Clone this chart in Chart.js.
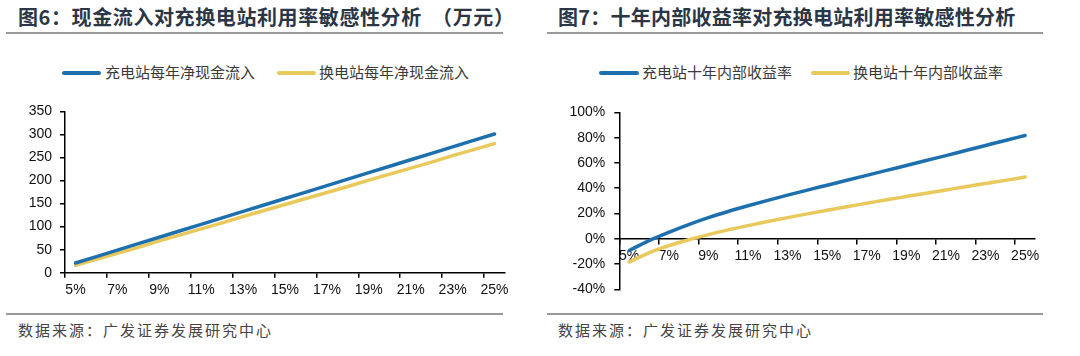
<!DOCTYPE html>
<html>
<head>
<meta charset="utf-8">
<script src="https://cdn.jsdelivr.net/npm/chart.js@4.4.1/dist/chart.umd.min.js"></script>
<style>
  html,body{margin:0;padding:0;background:#fff;}
  body{width:1080px;height:356px;position:relative;overflow:hidden;font-family:"Noto Sans CJK SC","Liberation Sans",sans-serif;}
  .title{position:absolute;top:4px;font-size:20px;font-weight:700;color:#2b3646;white-space:pre;line-height:26px;}
  .rule{position:absolute;height:2px;background:#9a9a9a;}
  .legend{position:absolute;top:62px;height:20px;font-size:15px;color:#3a3a3a;white-space:nowrap;line-height:20px;}
  .legend span.sw{position:absolute;top:9px;height:4px;border-radius:2px;}
  .legend span.tx{position:absolute;top:0;}
  .src{position:absolute;top:319px;font-size:15px;color:#444;letter-spacing:2px;white-space:nowrap;line-height:22px;}
  .wrap{position:absolute;top:95px;width:540px;height:215px;}
</style>
</head>
<body>
<div class="title" style="left:18px;letter-spacing:0.6px;">图6：现金流入对充换电站利用率敏感性分析  （万元）</div>
<div class="rule" style="left:6px;width:497px;top:32px;"></div>
<div class="title" style="left:558px;letter-spacing:0.25px;">图7：十年内部收益率对充换电站利用率敏感性分析</div>
<div class="rule" style="left:547px;width:496px;top:32px;"></div>

<div class="legend" style="left:0;width:540px;">
  <span class="sw" style="left:62px;width:39px;background:#1d6fad;"></span>
  <span class="tx" style="left:105px;">充电站每年净现金流入</span>
  <span class="sw" style="left:277px;width:39px;background:#e9c95b;"></span>
  <span class="tx" style="left:319px;">换电站每年净现金流入</span>
</div>
<div class="legend" style="left:540px;width:540px;">
  <span class="sw" style="left:59px;width:40px;background:#1d6fad;"></span>
  <span class="tx" style="left:102px;">充电站十年内部收益率</span>
  <span class="sw" style="left:271px;width:39px;background:#e9c95b;"></span>
  <span class="tx" style="left:313px;">换电站十年内部收益率</span>
</div>

<div class="wrap" style="left:0;"><canvas id="c1" width="540" height="215"></canvas></div>
<div class="wrap" style="left:540px;"><canvas id="c2" width="540" height="215"></canvas></div>

<div class="rule" style="left:6px;width:497px;top:313px;"></div>
<div class="rule" style="left:547px;width:496px;top:313px;"></div>
<div class="src" style="left:18px;">数据来源：广发证券发展研究中心</div>
<div class="src" style="left:558px;">数据来源：广发证券发展研究中心</div>

<script>
// ---- data ----
const utilization = ['5%','6%','7%','8%','9%','10%','11%','12%','13%','14%','15%','16%','17%','18%','19%','20%','21%','22%','23%','24%','25%'];
const chargeCashFlow = [21, 35, 49, 63, 77, 91, 105, 119, 133, 147, 161, 175, 189, 203, 217, 231, 245, 259, 273, 287, 301];
const swapCashFlow   = [16, 29, 42, 55, 69, 82, 95, 108, 122, 135, 148, 161, 174, 187, 201, 214, 227, 240, 254, 267, 280];
const chargeIRR = [-9.3, -1.5, 5.1, 11.2, 16.7, 21.6, 26.1, 30.4, 34.5, 38.5, 42.4, 46.3, 50.2, 54.1, 58.0, 61.9, 65.8, 69.8, 73.8, 77.8, 81.7];
const swapIRR   = [-18.4, -11.2, -5.5, -0.8, 3.3, 7.0, 10.4, 13.6, 16.7, 19.7, 22.6, 25.4, 28.1, 30.8, 33.4, 36.0, 38.6, 41.2, 43.7, 46.2, 48.8];
const cashTicks = [0, 50, 100, 150, 200, 250, 300, 350];
const irrTicks = [-40, -20, 0, 20, 40, 60, 80, 100];

const BLUE = '#1d6fad', YELLOW = '#e9c95b';
const tickFont = {family: '"Liberation Sans Narrow","Liberation Sans",Arial,sans-serif', size: 14};

function xScale(extra) {
  return Object.assign({
    type: 'category',
    offset: true,
    grid: {
      offset: true, drawOnChartArea: false, drawTicks: true, tickLength: 5, lineWidth: 1.5,
      tickColor: ctx => (ctx.index !== undefined && ctx.index % 2 === 0) ? '#000' : 'rgba(0,0,0,0)'
    },
    border: {display: true, color: '#000', width: 1.5},
    ticks: {
      autoSkip: false, maxRotation: 0, minRotation: 0, padding: 4, color: '#111', font: tickFont,
      callback: function(v, i) { return i % 2 === 0 ? this.getLabelForValue(v) : ''; }
    }
  }, extra || {});
}

function lineDS(label, data, color, tension) {
  return {label, data, borderColor: color, backgroundColor: color, borderWidth: 3.5,
          pointRadius: 0, borderCapStyle: 'round', tension: tension, cubicInterpolationMode: tension ? 'monotone' : 'default'};
}

new Chart(document.getElementById('c1'), {
  type: 'line',
  data: {labels: utilization, datasets: [
    lineDS('充电站每年净现金流入', chargeCashFlow, BLUE, 0),
    lineDS('换电站每年净现金流入', swapCashFlow, YELLOW, 0)
  ]},
  options: {
    responsive: false, animation: false, devicePixelRatio: 1,
    layout: {padding: {left: 0, right: 35, top: 13.5, bottom: 0}},
    plugins: {legend: {display: false}, tooltip: {enabled: false}},
    scales: {
      x: xScale({afterFit: s => { s.height = 37.3; }}),
      y: {
        min: 0, max: 350,
        afterBuildTicks: s => { s.ticks = cashTicks.map(v => ({value: v})); },
        afterFit: s => { s.width = 65; },
        grid: {drawOnChartArea: false, drawTicks: true, tickLength: 5, color: '#000', lineWidth: 1.5},
        border: {display: true, color: '#000', width: 1.5},
        ticks: {padding: 8, color: '#111', font: tickFont}
      }
    }
  }
});

new Chart(document.getElementById('c2'), {
  type: 'line',
  data: {labels: utilization, datasets: [
    lineDS('充电站十年内部收益率', chargeIRR, BLUE, 0.4),
    lineDS('换电站十年内部收益率', swapIRR, YELLOW, 0.4)
  ]},
  options: {
    responsive: false, animation: false, devicePixelRatio: 1,
    layout: {padding: {left: 0, right: 45, top: 15.7, bottom: 20.7}},
    plugins: {legend: {display: false}, tooltip: {enabled: false}},
    scales: {
      x: xScale({position: {y: 0}}),
      y: {
        min: -40, max: 100,
        afterBuildTicks: s => { s.ticks = irrTicks.map(v => ({value: v})); },
        afterFit: s => { s.width = 79.3; },
        grid: {drawOnChartArea: false, drawTicks: true, tickLength: 5, color: '#000', lineWidth: 1.5},
        border: {display: true, color: '#000', width: 1.5},
        ticks: {padding: 9, color: '#111', font: tickFont, callback: v => v + '%'}
      }
    }
  }
});
</script>
</body>
</html>
